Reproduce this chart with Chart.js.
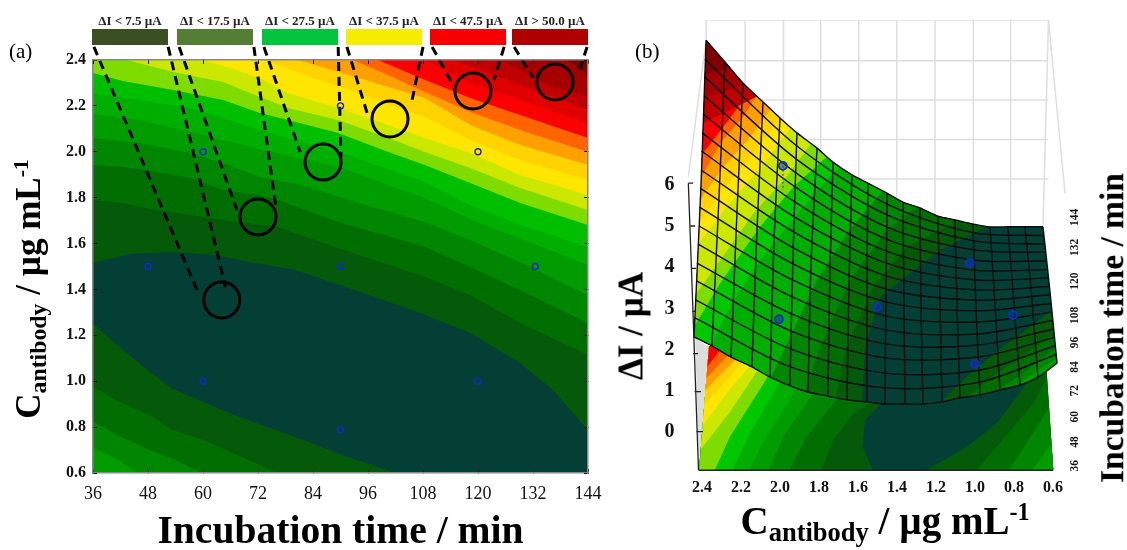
<!doctype html>
<html><head><meta charset="utf-8">
<script src="https://cdn.jsdelivr.net/npm/chart.js@4/dist/chart.umd.min.js"></script>
<style>
html,body{margin:0;background:#fff;width:1127px;height:550px;overflow:hidden;font-family:'Liberation Serif',serif;color:#000}
canvas{position:absolute;top:0}
#ca{left:0}#cb{left:620px}
.t{position:absolute;white-space:nowrap;line-height:1}
.r{transform:translate(-50%,-50%) rotate(-90deg)}
.c{transform:translate(-50%,-50%)}
sub{font-size:68%;vertical-align:-0.28em;line-height:0}
sup{font-size:62%;vertical-align:0.55em;line-height:0}
.sw{position:absolute;top:29px;height:16px;width:76px}
.sl{position:absolute;top:13px;font:bold 13px 'Liberation Serif',serif;transform:translateX(-50%);white-space:nowrap;color:#222}
</style></head><body>
<canvas id="ca" width="620" height="550"></canvas>
<canvas id="cb" width="507" height="550"></canvas>
<div class="t" style="left:9px;top:41px;font-size:21px">(a)</div>
<div class="t" style="left:635px;top:41px;font-size:21px">(b)</div>
<div class="t r" style="left:28px;top:289px;font-size:35px;font-weight:bold">C<sub>antibody</sub> / µg mL<sup>-1</sup></div>
<div class="t c" style="left:885px;top:520px;font-size:39px;font-weight:bold">C<sub>antibody</sub> / µg mL<sup>-1</sup></div>
<div class="t r" style="left:631px;top:326px;font-size:35px;font-weight:bold">ΔI / µA</div>
<div class="t r" style="left:1112px;top:328px;font-size:33.5px;font-weight:bold">Incubation time / min</div>
<script>
/* ---------- legend ---------- */
const legendLabels=['ΔI < 7.5 µA','ΔI < 17.5 µA','ΔI < 27.5 µA','ΔI < 37.5 µA','ΔI < 47.5 µA','ΔI > 50.0 µA'];
const legendColors=['#3a4f24','#547e36','#00c43c','#f5ec00','#f80000','#b00000'];
const legendLeft=[92,177,262,346,430,512];

/* ---------- panel (a) ---------- */
const timeRange=[36,144], concRange=[0.6,2.4];
const teal='#033f35', dark1='#055a0a', dark2='#006e00', g86='#008600', g9c='#009c00', gae='#00ae00', gc0='#00bf00', gc8='#00c800',
      lime='#7fdc00', yg='#cde800', yel='#ffe600', gold='#ffd200', orange='#ffa000', dorange='#ff6400', red='#fa0000',
      re0='#e00000', rc0='#c00000', ra4='#a40000', r80='#800000';

const bandDark2=[[36,1.79],[42.5,1.777],[50,1.746],[57.2,1.724],[67.4,1.694],[76.4,1.672],[89.5,1.58],[108.4,1.454],[118.3,1.376],[129.2,1.254],[144,1.114]];
const bandG86=[[36,1.942],[42.5,1.934],[50,1.912],[57.2,1.886],[64.4,1.833],[72.4,1.812],[76.4,1.79],[89.5,1.694],[108.4,1.585],[118.3,1.498],[129.2,1.397],[144,1.254]];
const bandG9c=[[36,2.06],[46.3,2.038],[57.2,1.995],[64.4,1.951],[72.4,1.89],[82.3,1.851],[93.2,1.781],[108.4,1.694],[118.3,1.615],[129.2,1.519],[144,1.376]];
const bandGae=[[36,2.165],[46.3,2.138],[57.2,2.086],[64.4,2.051],[71.3,2.016],[90.3,1.929],[108.4,1.798],[119.8,1.694],[144,1.506]];
const bandGc0=[[36,2.256],[46.3,2.226],[57.2,2.191],[64.4,2.147],[72.4,2.095],[90.3,1.995],[108.4,1.868],[118.3,1.768],[129.2,1.681],[144,1.585]];
const bandLime=[[36,2.343],[42.5,2.308],[53.5,2.269],[64.4,2.226],[72.4,2.169],[78.5,2.138],[89.5,2.082],[100.4,1.999],[108.4,1.942],[118.3,1.864],[129.2,1.777],[144,1.681]];
const bandYg=[[43.4,2.4],[53.5,2.348],[64.4,2.304],[72.4,2.239],[78.5,2.191],[89.5,2.138],[100.4,2.06],[108.4,1.999],[118.3,1.929],[129.2,1.842],[144,1.746]];
const bandYel=[[59.8,2.4],[65.9,2.365],[72.4,2.322],[78.5,2.256],[89.5,2.191],[96,2.147],[108.4,2.06],[118.3,1.995],[129.2,1.899],[144,1.812]];
const bandGold=[[73.5,2.4],[82.3,2.335],[93.2,2.26],[108.4,2.152],[118.3,2.051],[129.2,1.964],[144,1.877]];
const bandOrange=[[80.7,2.4],[93.2,2.326],[108.4,2.234],[118.3,2.117],[129.2,2.029],[144,1.942]];
const bandDorange=[[92.7,2.4],[100.4,2.335],[107.4,2.269],[118.3,2.173],[129.2,2.095],[144,1.999]];
const bandRed=[[98.2,2.4],[107.4,2.322],[118.3,2.234],[129.2,2.16],[144,2.06]];
const bandRe0=[[108.4,2.4],[118.3,2.3],[129.2,2.226],[144,2.125]];
const bandRc0=[[114.6,2.4],[129.2,2.291],[144,2.182]];
const bandRa4=[[124.8,2.4],[136.4,2.282],[144,2.239]];
const bandR80=[[139.4,2.4],[144,2.335]];
const lowerB2=[[36,0.977],[40.8,0.92],[49,0.846],[53,0.79],[60,0.745],[65.8,0.695],[74,0.62],[76,0.6]];
const lowerB3=[[36,0.825],[40.8,0.77],[49,0.695],[53,0.665],[60,0.6]];
const lowerB4=[[36,0.71],[40.8,0.665],[45.8,0.6]];
const tealPoly=[[36,1.515],[44.1,1.554],[52.8,1.563],[62.6,1.55],[71.3,1.515],[80.1,1.485],[93.2,1.397],[107.4,1.297],[118.3,1.21],[129.2,1.079],[136.4,0.961],[144,0.787],[144,0.6],[101.7,0.6],[99,0.62],[90.9,0.675],[82.5,0.74],[74,0.8],[65.8,0.86],[60,0.91],[53,0.97],[46.6,1.07],[40.8,1.165],[36,1.252]];
const designTime=[48,60,60,90,90,90,120,120,132.5];
const designConc=[1.5,2.0,1.0,2.2,1.5,0.79,2.0,1.0,1.5];
const ringTime=[64.1,72,86.2,100.8,118.9,136.8];
const ringConc=[1.354,1.716,1.955,2.143,2.265,2.304];
const leaders=[
 [[36.2,2.457],[58.7,1.397]],[[52.4,2.457],[64.9,1.41]],
 [[54.8,2.457],[67.4,1.746]],[[71.1,2.457],[75.9,1.759]],
 [[73.3,2.457],[81.2,1.999]],[[89.5,2.457],[90.1,1.977]],
 [[91.4,2.457],[95.8,2.169]],[[108,2.457],[105.4,2.204]],
 [[110,2.457],[114.3,2.3]],[[125.7,2.457],[123.5,2.313]],
 [[127.9,2.457],[132,2.322]],[[143.8,2.457],[141.8,2.335]]];

/* ---------- panel (b): positions read on the conc. axis and ΔI axis of the view ---------- */
const concTicks=[2.4,2.2,2,1.8,1.6,1.4,1.2,1,0.8,0.6];
const currentTicks=[0,1,2,3,4,5,6];
const timeTicks=[36,48,60,72,84,96,108,120,132,144];
const timeTickAt=[-0.96,-0.38,0.23,0.86,1.44,2.03,2.62,3.45,4.27,5.0];
const wallRows=[10,9.01,8.06,7.1,6.14];
const wallCols=[2.179,1.982,1.791,1.596,1.401,1.205,1.008,0.817];
const meshCols=[
[[2.379,9.51],[2.405,6.0],[2.441,2.31]],[[2.282,8.98],[2.313,5.68],[2.349,2.09]],[[2.19,8.47],[2.221,5.29],[2.251,1.82]],
[[2.087,8.01],[2.118,4.9],[2.144,1.58]],[[2.0,7.62],[2.031,4.61],[2.051,1.33]],[[1.913,7.26],[1.933,4.3],[1.949,1.12]],
[[1.81,6.89],[1.841,4.05],[1.856,0.97]],[[1.728,6.55],[1.744,3.83],[1.754,0.87]],[[1.631,6.24],[1.646,3.62],[1.656,0.78]],
[[1.549,6.04],[1.554,3.5],[1.554,0.73]],[[1.451,5.8],[1.456,3.35],[1.462,0.68]],[[1.369,5.58],[1.364,3.23],[1.359,0.68]],
[[1.282,5.44],[1.277,3.16],[1.267,0.68]],[[1.19,5.24],[1.179,3.08],[1.169,0.73]],[[1.103,5.15],[1.092,3.06],[1.077,0.83]],
[[1.01,5.05],[0.995,3.06],[0.974,0.9]],[[0.923,4.98],[0.897,3.08],[0.872,1.02]],[[0.831,4.98],[0.8,3.13],[0.769,1.14]],
[[0.744,4.98],[0.708,3.25],[0.677,1.33]],[[0.651,4.98],[0.615,3.4],[0.579,1.67]]];
const meshRows=[
[[2.385,9.05],[1.913,6.94],[1.451,5.53],[1.01,4.84],[0.646,4.77]],
[[2.387,8.62],[1.918,6.63],[1.451,5.27],[1.005,4.64],[0.641,4.56]],
[[2.39,8.16],[1.918,6.29],[1.453,4.98],[1.005,4.42],[0.636,4.36]],
[[2.395,7.72],[1.923,5.95],[1.454,4.68],[1.0,4.17],[0.633,4.15]],
[[2.4,7.26],[1.923,5.58],[1.454,4.39],[1.0,3.93],[0.631,3.94]],
[[2.403,6.82],[1.926,5.22],[1.455,4.10],[0.995,3.69],[0.626,3.74]],
[[2.405,6.36],[1.928,4.85],[1.456,3.79],[0.995,3.45],[0.62,3.53]],
[[2.41,5.92],[1.931,4.47],[1.457,3.47],[0.992,3.2],[0.615,3.33]],
[[2.413,5.46],[1.933,4.08],[1.458,3.16],[0.99,2.94],[0.61,3.12]],
[[2.415,5.0],[1.936,3.69],[1.459,2.82],[0.987,2.67],[0.605,2.91]],
[[2.42,4.56],[1.938,3.28],[1.46,2.48],[0.985,2.38],[0.6,2.71]],
[[2.426,4.1],[1.938,2.86],[1.46,2.14],[0.985,2.11],[0.595,2.5]],
[[2.428,3.67],[1.943,2.45],[1.461,1.8],[0.979,1.82],[0.592,2.29]],
[[2.431,3.2],[1.943,2.01],[1.461,1.43],[0.979,1.5],[0.59,2.09]],
[[2.436,2.77],[1.946,1.58],[1.462,1.07],[0.977,1.21],[0.585,1.88]]];
/* colour bands on the surface, from the teal core toward the top-left corner */
const surfBands=[
[dark1,[[1.581,0.615],[1.564,2.07],[1.487,3.28],[1.333,3.85],[1.179,4.42],[0.923,5.02]]],
[dark2,[[1.726,0.615],[1.658,2.07],[1.521,3.53],[1.35,4.5],[1.111,5.06]]],
[g86,[[1.888,0.78],[1.794,2.07],[1.641,3.69],[1.452,4.9],[1.282,5.51]]],
[gae,[[2.051,1.26],[1.948,2.31],[1.811,3.69],[1.658,4.82],[1.47,5.87]]],
[gc8,[[2.358,2.07],[2.256,3.04],[2.102,4.17],[1.965,4.98],[1.794,5.95],[1.692,6.44]]],
[lime,[[2.44,2.56],[2.307,3.61],[2.102,4.98],[1.931,5.95],[1.76,6.68]]],
[yg,[[2.44,3.28],[2.307,4.17],[2.136,5.31],[1.965,6.2],[1.846,6.97]]],
[yel,[[2.43,4.5],[2.273,5.47],[2.068,6.6],[1.948,7.37]]],
[gold,[[2.418,5.06],[2.307,5.79],[2.136,6.76],[2.0,7.61]]],
[orange,[[2.41,5.63],[2.29,6.44],[2.136,7.25],[2.051,7.82]]],
[dorange,[[2.401,6.2],[2.307,7.01],[2.188,7.65],[2.119,8.18]]],
[red,[[2.396,6.76],[2.29,7.41],[2.15,8.3]]],
[rc0,[[2.396,7.49],[2.102,8.18]]],
[ra4,[[2.393,8.1],[2.162,8.46]]],
[r80,[[2.389,8.67],[2.23,8.87]]]];
const surfCorner=[
[dark1,[[1.179,0.71],[1.025,1.42],[0.854,2.07],[0.623,2.88]]],
[dark2,[[1.059,0.78],[0.888,1.42],[0.735,1.91],[0.615,2.31]]],
[g86,[[0.94,0.86],[0.803,1.26],[0.598,1.99]]],
[g9c,[[0.854,0.9],[0.7,1.42],[0.581,1.79]]]];
/* floor contour */
const floorOutline=[[2.415,-0.93],[0.598,-0.93],[0.635,1.67],[2.364,2.09]];
const floorLeft=[
[dark1,[[1.521,-0.96],[1.576,-0.36],[1.564,0.29],[1.47,0.74]]],
[dark2,[[1.789,-0.96],[1.726,-0.19],[1.623,0.45],[1.521,0.74]]],
[g86,[[1.955,-0.96],[1.863,-0.11],[1.709,0.78]]],
[g9c,[[2.061,-0.96],[1.982,-0.11],[1.829,0.94]]],
[gae,[[2.165,-0.96],[2.068,-0.11],[1.914,1.06]]],
[gc8,[[2.249,-0.96],[2.153,-0.03],[1.999,1.22]]],
[lime,[[2.338,-0.96],[2.256,-0.11],[2.068,1.3]]],
[yg,[[2.41,-0.44],[2.256,0.49],[2.119,1.47]]],
[yel,[[2.401,0.13],[2.273,0.94],[2.162,1.57]]],
[gold,[[2.388,0.66],[2.196,1.67]]],
[orange,[[2.382,1.02],[2.23,1.75]]],
[dorange,[[2.379,1.3],[2.264,1.87]]],
[red,[[2.372,1.59],[2.307,1.99]]]];
const floorRight=[
[dark1,[[1.261,-0.96],[1.042,-0.36],[0.888,0.21],[0.735,1.18],[0.683,1.5]]],
[dark2,[[1.0,-0.96],[0.888,-0.36],[0.7,0.7],[0.623,1.42]]],
[g86,[[0.832,-0.96],[0.735,-0.27],[0.606,0.7]]],
[g9c,[[0.711,-0.96],[0.606,-0.27]]]];
const sliver=[[2.435,2.27],[2.367,2.07],[2.415,-0.92]];
const axisLine=[[2.47,6.04],[2.452,3.69],[2.418,-0.92]];
const floorEdge=[[2.418,-0.93],[0.6,-0.93]];
const axisTickMarks=[[[2.47,6.04],[2.445,6.04]],[[2.46,5.0],[2.435,5.0]],[[2.455,3.97],[2.43,3.97]],[[2.45,2.93],[2.425,2.93]],[[2.445,1.9],[2.42,1.9]],[[2.438,0.98],[2.405,0.98]],[[2.428,0.01],[2.395,0.01]]];
const wallEdges=[[[2.379,9.51],[2.47,6.2]],[[2.379,10],[2.379,9.51]],[[0.623,10],[0.538,5.79]],[[0.623,10],[0.651,4.98]]];
const bPointsConc=[1.985,1.026,2.005,1.503,0.805,1.0];
const bPointsCurrent=[6.46,4.10,2.74,3.03,2.84,1.65];
const stems=[[[1.985,6.46],[1.985,5.87]],[[2.005,2.74],[2.005,2.48]]];

/* ---------- helpers ---------- */
const xy=a=>a.map(p=>({x:p[0],y:p[1]}));
const poly=(pts,color)=>({data:xy(pts),showLine:true,fill:'shape',backgroundColor:color,borderWidth:0,pointRadius:0,tension:0});
const line=(pts,color,w,extra)=>Object.assign({data:xy(pts),showLine:true,fill:false,borderColor:color,backgroundColor:'transparent',borderWidth:w,pointRadius:0,tension:0},extra||{});
const stack=a=>{a.forEach((d,i)=>d.order=a.length-i);return a;};
const serif='Liberation Serif';
const maskPlugin={id:'mask',
 afterDatasetDraw(chart,args){const ds=chart.data.datasets[args.index];if(!ds.maskBegin)return;
  const c=chart.ctx,sx=chart.scales.x,sy=chart.scales.y;c.save();c.beginPath();
  ds.maskBegin.forEach((p,i)=>{const X=sx.getPixelForValue(p[0]),Y=sy.getPixelForValue(p[1]);i?c.lineTo(X,Y):c.moveTo(X,Y);});
  c.closePath();c.clip();},
 beforeDatasetDraw(chart,args){const ds=chart.data.datasets[args.index];if(ds.maskEnd)chart.ctx.restore();}
};

/* ---------- legend DOM ---------- */
legendLabels.forEach((l,i)=>{
 const s=document.createElement('div');s.className='sw';s.style.left=legendLeft[i]+'px';s.style.background=legendColors[i];document.body.appendChild(s);
 const t=document.createElement('div');t.className='sl';t.style.left=(legendLeft[i]+38)+'px';t.textContent=l;document.body.appendChild(t);
});

/* ---------- chart (a) ---------- */
const rect=[[36,0.6],[144,0.6],[144,2.4],[36,2.4]];
const toCorner=b=>b.concat([[144,2.4],[36,2.4]]);
const toLow=b=>b.concat([[36,0.6]]);
const dsA=[poly(rect,dark1)];
[[bandDark2,dark2],[bandG86,g86],[bandG9c,g9c],[bandGae,gae],[bandGc0,gc0],[bandLime,lime],[bandYg,yg],[bandYel,yel],[bandGold,gold],[bandOrange,orange],[bandDorange,dorange],[bandRed,red],[bandRe0,re0],[bandRc0,rc0],[bandRa4,ra4],[bandR80,r80]]
 .forEach(b=>dsA.push(poly(toCorner(b[0]),b[1])));
[[lowerB2,dark2],[lowerB3,g86],[lowerB4,g9c]].forEach(b=>dsA.push(poly(toLow(b[0]),b[1])));
dsA.push(poly(tealPoly,teal));
leaders.forEach(l=>dsA.push(line(l,'#000',3,{borderDash:[9,6],clip:false})));
dsA.push({data:designTime.map((t,i)=>({x:t,y:designConc[i]})),pointRadius:3,pointBorderWidth:1.4,pointBorderColor:'#1428c8',pointBackgroundColor:'transparent',showLine:false,fill:false});
dsA.push({data:ringTime.map((t,i)=>({x:t,y:ringConc[i]})),pointRadius:18,pointBorderWidth:3,pointBorderColor:'#000',pointBackgroundColor:'transparent',showLine:false,fill:false,clip:false});

const edgeAxis=(pos,range,step)=>({type:'linear',position:pos,min:range[0],max:range[1],
 ticks:{display:false,stepSize:step},border:{color:'#888',width:1.5,z:1},
 grid:{drawOnChartArea:false,tickLength:-4,color:'#111',lineWidth:1,z:1},afterFit(s){if(pos==='top')s.height=0;else s.width=0;}});
new Chart(document.getElementById('ca'),{type:'scatter',data:{datasets:stack(dsA)},options:{
 responsive:false,animation:false,devicePixelRatio:1,
 layout:{padding:{top:60,right:32,left:0,bottom:0}},
 plugins:{legend:{display:false},tooltip:{enabled:false},title:{display:false}},
 scales:{
  x:{type:'linear',position:'bottom',min:36,max:144,
   ticks:{stepSize:12,padding:14,color:'#111',maxRotation:0,font:{family:serif,size:18}},
   border:{color:'#888',width:1.5,z:1},grid:{drawOnChartArea:false,tickLength:-4,color:'#111',z:1},
   title:{display:true,text:'Incubation time / min',color:'#000',font:{family:serif,size:39.6,weight:'bold'},padding:{top:0,bottom:-7}},
   afterFit(s){s.height=77;}},
  y:{type:'linear',position:'left',min:0.6,max:2.4,
   ticks:{stepSize:0.2,padding:11,color:'#111',font:{family:serif,size:16,weight:'bold'},callback:v=>v.toFixed(1)},
   border:{color:'#888',width:1.5,z:1},grid:{drawOnChartArea:false,tickLength:-4,color:'#111',z:1},
   afterFit(s){s.width=93;}},
  xT:edgeAxis('top',timeRange,12),
  yR:edgeAxis('right',concRange,0.2)
 }}});

/* ---------- chart (b) ---------- */
const L=2.5,R=0.533,B=-1,T=10;
const leftClose=b=>b.concat([[b[b.length-1][0],T],[L,T],[L,B]]);
const floorLeftClose=b=>b.concat([[b[b.length-1][0],3],[L,3],[L,B]]);
const rightClose=b=>b.concat([[R,b[b.length-1][1]],[R,B]]);
const surfOutline=meshCols.map(c=>c[0]).concat([meshCols[19][1]],meshCols.slice().reverse().map(c=>c[2]),[meshCols[0][1]]);
const dsB=[];
wallRows.forEach(y=>dsB.push(line([[2.379,y],[0.623,y]],'#dedede',1.5)));
wallCols.forEach(x=>dsB.push(line([[x,10],[x,4.34]],'#dedede',1.5)));
wallEdges.forEach(e=>dsB.push(line(e,'#dedede',1.5,{clip:false})));
dsB.push(poly(sliver,'#dcdcdc'));
dsB.push({data:[],maskBegin:floorOutline,pointRadius:0});
dsB.push(poly(floorOutline,teal));
floorLeft.forEach(b=>dsB.push(poly(floorLeftClose(b[1]),b[0])));
floorRight.forEach(b=>dsB.push(poly(rightClose(b[1]),b[0])));
dsB.push({data:[],maskEnd:true,pointRadius:0});
dsB.push(line(axisLine,'#222',1.3));
axisTickMarks.forEach(t=>dsB.push(line(t,'#222',1.3)));
dsB.push(line(floorEdge,'#222',1.5));
dsB.push({data:[],maskBegin:surfOutline,pointRadius:0});
dsB.push(poly(surfOutline,teal));
surfBands.forEach(b=>dsB.push(poly(leftClose(b[1]),b[0])));
surfCorner.forEach(b=>dsB.push(poly(rightClose(b[1]),b[0])));
dsB.push({data:[],maskEnd:true,pointRadius:0});
meshRows.forEach(r=>dsB.push(line(r,'#0c0c0c',1.4,{tension:0.3,clip:false})));
meshCols.forEach(c=>dsB.push(line(c,'#0c0c0c',1.4,{tension:0.3,clip:false})));
dsB.push(line(meshCols.map(c=>c[0]),'#0c0c0c',1.4,{tension:0.3,clip:false}));
dsB.push(line(meshCols.map(c=>c[2]),'#0c0c0c',1.4,{tension:0.3,clip:false}));
stems.forEach(s=>dsB.push(line(s,'#2c50a8',1.2,{borderDash:[2,2]})));
dsB.push({data:bPointsConc.map((c,i)=>({x:c,y:bPointsCurrent[i]})),pointRadius:4,pointBorderWidth:1.8,pointBorderColor:'#1030b8',pointBackgroundColor:'rgba(16,48,184,.5)',showLine:false,fill:false});

new Chart(document.getElementById('cb'),{type:'scatter',data:{datasets:stack(dsB)},plugins:[maskPlugin],options:{
 responsive:false,animation:false,devicePixelRatio:1,
 layout:{padding:{top:20,right:0,left:0,bottom:0}},
 plugins:{legend:{display:false},tooltip:{enabled:false},title:{display:false}},
 scales:{
  x:{type:'linear',position:'bottom',min:R,max:L,reverse:true,
   afterBuildTicks(s){s.ticks=concTicks.map(v=>({value:v}));},
   ticks:{padding:5,autoSkip:false,maxRotation:0,color:'#111',font:{family:serif,size:16,weight:'bold'},callback:v=>Number(v).toFixed(1)},
   border:{display:false},grid:{display:false,drawTicks:false},afterFit(s){s.height=76.8;}},
  y:{type:'linear',position:'left',min:B,max:T,
   afterBuildTicks(s){s.ticks=currentTicks.map(v=>({value:v}));},
   ticks:{padding:8,autoSkip:false,color:'#111',font:{family:serif,size:20,weight:'bold'}},
   border:{display:false},grid:{display:false,drawTicks:false},afterFit(s){s.width=62.5;}},
  yT:{type:'linear',position:'right',min:B,max:T,
   afterBuildTicks(s){s.ticks=timeTickAt.map(v=>({value:v}));},
   ticks:{padding:9,autoSkip:false,minRotation:90,maxRotation:90,color:'#111',font:{family:serif,size:11.5,weight:'bold'},
     callback:(v,i)=>String(timeTicks[i])},
   border:{display:false},grid:{display:false,drawTicks:false},afterFit(s){s.width=61;}}
 }}});
</script>
</body></html>
